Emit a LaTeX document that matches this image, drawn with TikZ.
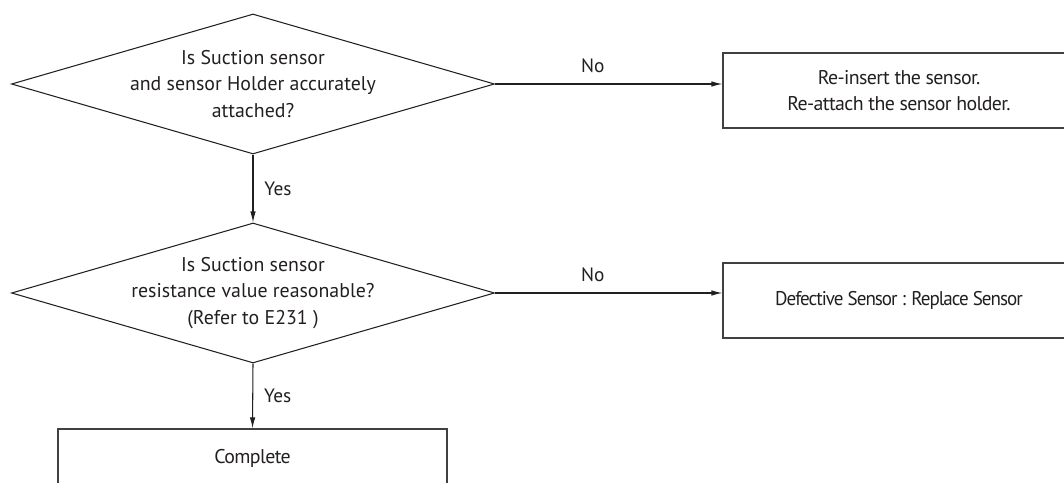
\documentclass[tikz,border=0pt]{standalone}
\usepackage{fontspec}
\setmainfont{PT Sans}
\newfontfamily\boxfont{PT Sans}[LetterSpace=-3.0]
\newfontfamily\squeezefont{PT Sans}[LetterSpace=-5.0, FakeStretch=0.96]
\usetikzlibrary{arrows.meta,shapes.geometric}
\definecolor{inkgrey}{RGB}{35,31,32}
\definecolor{framegrey}{RGB}{64,64,64}

\begin{document}
\begin{tikzpicture}[font=\fontsize{11.3}{15}\selectfont, text=inkgrey,
    decision/.style={diamond, draw=inkgrey, line width=0.6pt, aspect=3.45,
      minimum width=9.66cm, minimum height=2.8cm, inner sep=-14pt, align=center},
    actionbox/.style={rectangle, draw=framegrey, line width=0.7pt,
      minimum width=7.04cm, minimum height=1.5cm, align=center,
      font=\fontsize{11.3}{15}\selectfont\boxfont},
    flow/.style={-{Latex[length=2.2mm,width=1.1mm]}, draw=inkgrey, line width=0.6pt},
    answer/.style={font=\fontsize{11}{12}\selectfont}]
    % Page frame (the last boxes run off the page)
    \clip (0,0) rectangle (21.28,9.64);
    % Decisions
    \node[decision] (attached) at (5.06,7.96)
      {Is Suction sensor\\and sensor Holder accurately\\attached?};
    \node[decision] (resist) at (5.06,3.78)
      {Is Suction sensor\\resistance value reasonable?\\(Refer to E231 )};
    % Actions
    \node[actionbox] (reinsert) at (17.98,7.83)
      {Re-insert the sensor.\\Re-attach the sensor holder.};
    \node[actionbox, font=\fontsize{11.3}{15}\selectfont\squeezefont] (replace) at (17.98,3.63)
      {Defective Sensor : Replace Sensor};
    \node[actionbox, minimum width=7.78cm, minimum height=1.16cm] (complete) at (5.05,0.48)
      {Complete};
    % Yes branches
    \draw[flow] (attached.south) -- (resist.north)
      node[midway, right, answer, xshift=0.1cm]{Yes};
    \draw[flow] (resist.south) -- (complete.north)
      node[midway, right, answer, xshift=0.1cm]{Yes};
    % No branches
    \draw[flow] (attached.east) -- (attached.east -| reinsert.west)
      node[pos=0.43, above, answer, yshift=0.1cm]{No};
    \draw[flow] (resist.east) -- (resist.east -| replace.west)
      node[pos=0.43, above, answer, yshift=0.1cm]{No};
  \end{tikzpicture}
\end{document}
